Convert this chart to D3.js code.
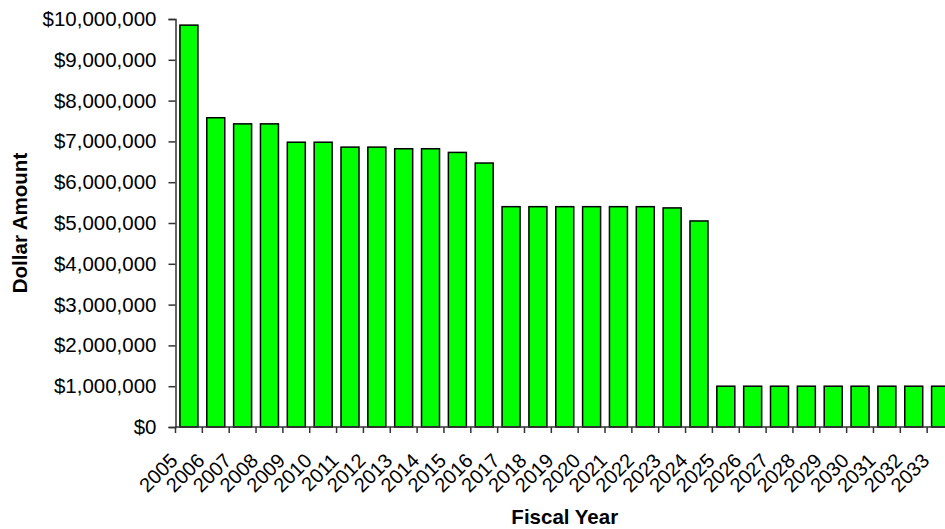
<!DOCTYPE html>
<html>
<head>
<meta charset="utf-8">
<script src="https://cdn.jsdelivr.net/npm/d3@7"></script>
<style>
  html, body { margin: 0; padding: 0; background: #fff; }
  svg { display: block; font-family: "Liberation Sans", Arial, sans-serif; }
</style>
</head>
<body>
<svg id="chart" width="945" height="529"></svg>
<script>
// Fiscal years and the dollar amount for each year
const years = ["2005","2006","2007","2008","2009","2010","2011","2012","2013","2014",
  "2015","2016","2017","2018","2019","2020","2021","2022","2023","2024",
  "2025","2026","2027","2028","2029","2030","2031","2032","2033"];
const amounts = [9850000, 7580000, 7430000, 7430000, 6980000, 6980000, 6860000, 6860000,
  6820000, 6820000, 6730000, 6470000, 5400000, 5400000, 5400000, 5400000, 5400000, 5400000,
  5370000, 5050000, 1000000, 1000000, 1000000, 1000000, 1000000, 1000000, 1000000, 1000000, 1000000];
const yTicks = [0, 1000000, 2000000, 3000000, 4000000, 5000000, 6000000, 7000000, 8000000, 9000000, 10000000];

const svg = d3.select("#chart");
const plotLeft = 175.5, plotTop = 19, plotBottom = 427, plotRight = 954;

const x = d3.scaleBand().domain(years).range([plotLeft, plotRight]).paddingInner(0.33).paddingOuter(0.165);
const xEdge = d3.scaleBand().domain(years).range([plotLeft, plotRight]);
const y = d3.scaleLinear().domain([0, 10000000]).range([plotBottom, plotTop]);

const fmt = v => "$" + d3.format(",")(v);

// bars
svg.append("g").selectAll("rect").data(years).join("rect")
  .attr("x", d => x(d))
  .attr("y", (d, i) => y(amounts[i]))
  .attr("width", x.bandwidth())
  .attr("height", (d, i) => y(0) - y(amounts[i]))
  .attr("fill", "#00ff00")
  .attr("stroke", "#000")
  .attr("stroke-width", 1.5);

// y axis
const yAxis = svg.append("g").attr("transform", `translate(${plotLeft},0)`)
  .call(d3.axisLeft(y).tickValues(yTicks).tickFormat(fmt).tickSize(7).tickPadding(12));
yAxis.select(".domain").attr("stroke", "#333").attr("stroke-width", 1.5);
yAxis.selectAll(".tick line").attr("stroke", "#333").attr("stroke-width", 1.5);
yAxis.selectAll("text").attr("font-size", 20.5).attr("fill", "#000")
  .style("font-family", "'Liberation Sans', Arial, sans-serif");

// x axis: ticks at category boundaries
const xg = svg.append("g").attr("transform", `translate(0,${plotBottom})`);
xg.append("line").attr("x1", plotLeft).attr("x2", plotRight).attr("stroke", "#333").attr("stroke-width", 1.5);
xg.selectAll("line.tk").data(years).join("line").attr("class", "tk")
  .attr("x1", d => xEdge(d)).attr("x2", d => xEdge(d))
  .attr("y1", 0).attr("y2", 6).attr("stroke", "#333").attr("stroke-width", 1.5);
xg.selectAll("text").data(years).join("text")
  .attr("transform", d => `translate(${xEdge(d) + xEdge.bandwidth() / 2 - 10},35) rotate(-45)`)
  .attr("text-anchor", "end")
  .attr("font-size", 20)
  .attr("fill", "#000")
  .text(d => d);

// axis titles
svg.append("text")
  .attr("x", (plotLeft + plotRight) / 2).attr("y", 524)
  .attr("text-anchor", "middle").attr("font-size", 20.5).attr("font-weight", "bold")
  .text("Fiscal Year");
svg.append("text")
  .attr("transform", `translate(27,${(plotTop + plotBottom) / 2}) rotate(-90)`)
  .attr("text-anchor", "middle").attr("font-size", 20.5).attr("font-weight", "bold")
  .text("Dollar Amount");
</script>
</body>
</html>
